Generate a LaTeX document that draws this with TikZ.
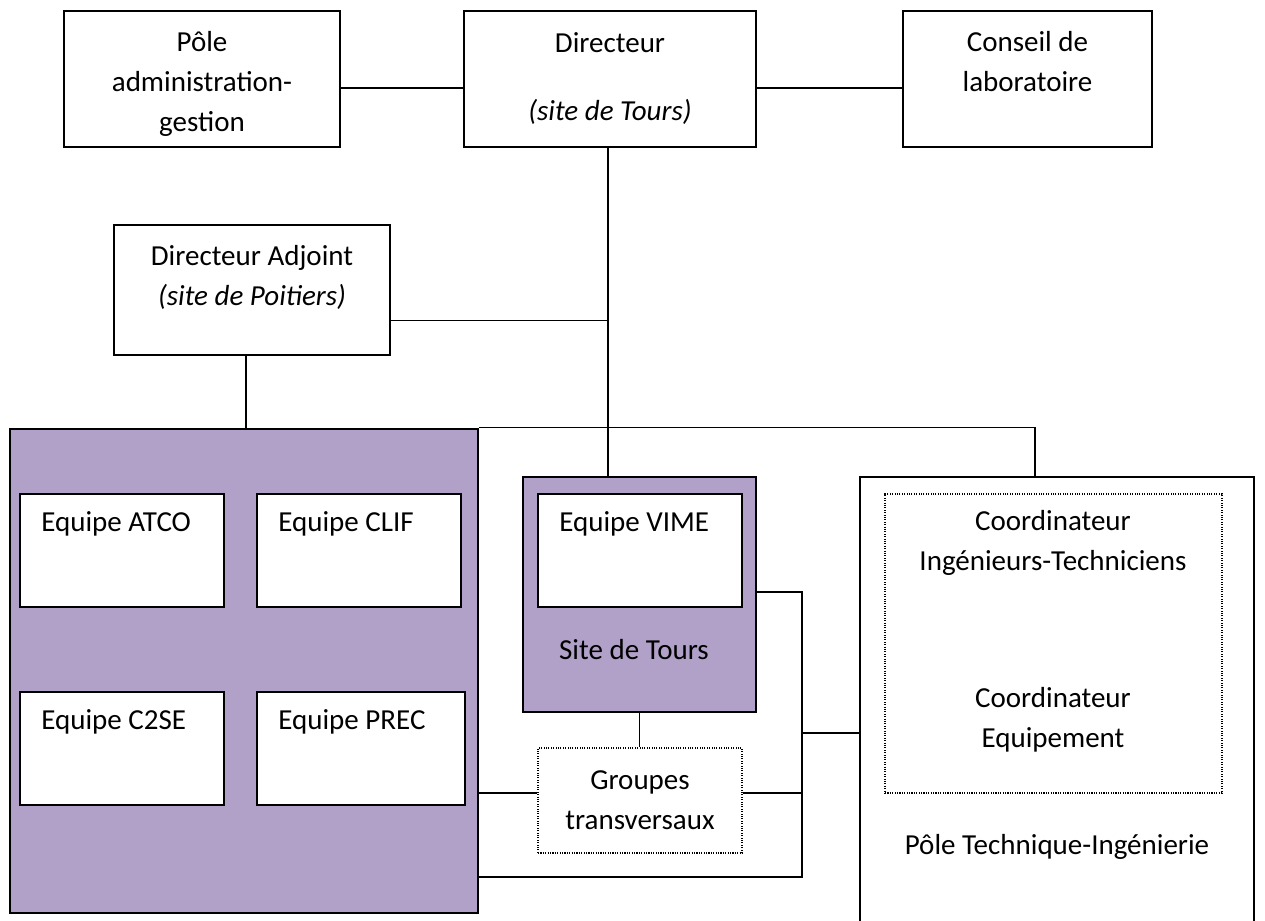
\documentclass[tikz,border=0pt]{standalone}
\usepackage{fontspec}
\setmainfont{Carlito}
\usetikzlibrary{positioning}
\definecolor{lilas}{HTML}{B1A0C7}

\begin{document}
\begin{tikzpicture}[x=0.5pt, y=-0.5pt,
        every node/.style={font=\fontsize{14.5pt}{20pt}\selectfont, inner sep=0pt},
        box/.style={draw, line width=1.2pt, fill=white},
        team/.style={draw, line width=1pt, fill=white, minimum height=56.5pt},
        site/.style={draw, line width=1.3pt, fill=lilas},
        dotbox/.style={draw, line width=0.55pt, dash pattern=on 0.55pt off 0.65pt, fill=white},
        link/.style={line width=0.7pt},
        txt/.style={align=center}]
            \useasboundingbox (0,0) rectangle (1265,921);

            % 1. Top row
            \node[box, minimum width=138pt, minimum height=68pt] (pole) at (202,79) {};
            \node[txt] (poletxt) at (202,84) {P\^ole\\administration-\\gestion};
            \node[box, txt, minimum width=146pt, minimum height=68pt] (dir) at (610,79) {Directeur\\[14pt]\textit{(site de Tours)}};
            \node[box, minimum width=124.5pt, minimum height=68pt] (conseil) at (1027.5,79) {};
            \node[txt] (conseiltxt) at (1027.5,62) {Conseil de\\laboratoire};

            % 2. Directeur Adjoint
            \node[box, minimum width=138pt, minimum height=65pt] (adj) at (252,290) {};
            \node[txt] (adjtxt) at (252,277) {Directeur Adjoint\\\textit{(site de Poitiers)}};

            % 3. The two sites and the technical pole
            \node[site, minimum width=234pt, minimum height=242pt] (poitiers) at (244,671) {};
            \node[site, minimum width=116.5pt, minimum height=117.5pt] (tours) at (639.5,594.5) {};
            \node[anchor=base] (tourstxt) at (634,659) {Site de Tours};
            \node[box, minimum width=197pt, minimum height=241.5pt] (tech) at (1057,718.5) {};
            \node[anchor=base] (techtxt) at (1057,854) {P\^ole Technique-Ing\'enierie};

            % 4. Teams
            \foreach \n/\x/\y/\w/\t in {atco/122/550.5/102/ATCO, clif/359/550.5/102/CLIF,
                                        c2se/122/748.5/102/C2SE, prec/361/748.5/104/PREC,
                                        vime/640/550.5/102/VIME} {
                \node[team, minimum width=\w pt] (\n) at (\x,\y) {};
                \node[anchor=base west] (\n-txt) at ([xshift=11pt, yshift=-19pt]\n.north west) {Equipe \t};
            }

            % 5. Dotted boxes
            \node[dotbox, txt, minimum width=102pt, minimum height=52.5pt] (groupes) at (640,800.5) {Groupes\\transversaux};
            \node[dotbox, minimum width=168.5pt, minimum height=149.5pt] (coord) at (1053.5,643.5) {};
            \node[txt] (coordit) at (1053,543) {Coordinateur\\Ing\'enieurs-Techniciens};
            \node[txt] (coordeq) at (1053,720) {Coordinateur\\Equipement};

            % 6. Connectors
            \coordinate (spine) at ([xshift=-1pt]dir.south);
            \coordinate (bustop) at (802,592);
            \coordinate (busmid) at (802,733);
            \coordinate (busbot) at (802,877);
            \coordinate (gleft) at ([yshift=3.75pt]groupes.west);
            \coordinate (gright) at ([yshift=3.75pt]groupes.east);

            \draw[link] ([yshift=-4.5pt]pole.east) -- ([yshift=-4.5pt]dir.west);
            \draw[link] ([yshift=-4.5pt]dir.east) -- ([yshift=-4.5pt]conseil.west);
            \draw[link] (spine) -- (spine |- tours.north);
            \draw[link] ([yshift=-15.25pt]adj.east) -- ([yshift=-15.25pt]adj.east -| spine);
            \draw[link] ([xshift=-3pt]adj.south) -- ([xshift=-3pt]adj.south |- poitiers.north);
            \draw[link] (poitiers.north east) -| ([xshift=-11pt]tech.north);
            \draw[link] (tours.east |- bustop) -- (bustop) -- (busbot) -- (poitiers.east |- busbot);
            \draw[link] (busmid) -- (busmid -| tech.west);
            \draw[link] (tours.south) -- (tours.south |- groupes.north);
            \draw[link] (gleft -| poitiers.east) -- (gleft);
            \draw[link] (gright) -- (gright -| bustop);
        \end{tikzpicture}
\end{document}
